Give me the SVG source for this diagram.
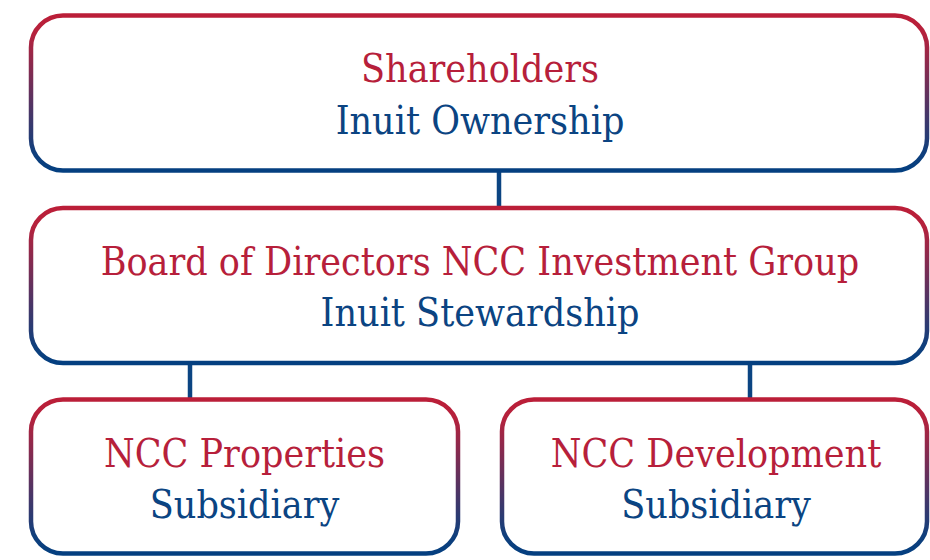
<svg xmlns="http://www.w3.org/2000/svg" width="930" height="560" viewBox="0 0 930 560">
<style>
.box{fill:#fff;stroke:url(#g);stroke-width:4.5}
.t{font-family:"DejaVu Serif Condensed","DejaVu Serif",serif;font-size:39px;text-anchor:middle}
.r{fill:#b71f3b}
.b{fill:#0b4482}
.c{stroke:#0b4482;stroke-width:4.5;fill:none}
</style>
<defs>
<linearGradient id="g" x1="0" y1="0" x2="0" y2="1">
<stop offset="0" stop-color="#bb1e38"/>
<stop offset="0.12" stop-color="#b5223d"/>
<stop offset="0.88" stop-color="#113f7c"/>
<stop offset="1" stop-color="#043f80"/>
</linearGradient>
</defs>
<g id="connectors">
<line class="c" x1="499" y1="170" x2="499" y2="208"/>
<line class="c" x1="190" y1="362" x2="190" y2="400"/>
<line class="c" x1="750" y1="362" x2="750" y2="400"/>
</g>
<g id="shareholders">
<rect class="box" x="31" y="15.5" width="896" height="155" rx="32"/>
<text class="t r" x="480" y="82">Shareholders</text>
<text class="t b" x="480" y="134">Inuit Ownership</text>
</g>
<g id="board">
<rect class="box" x="31" y="208" width="896" height="155" rx="32"/>
<text class="t r" x="480" y="275">Board of Directors NCC Investment Group</text>
<text class="t b" x="480" y="326">Inuit Stewardship</text>
</g>
<g id="properties">
<rect class="box" x="31" y="399.5" width="427" height="154" rx="32"/>
<text class="t r" x="244.5" y="467">NCC Properties</text>
<text class="t b" x="244.5" y="518">Subsidiary</text>
</g>
<g id="development">
<rect class="box" x="502" y="399.5" width="425" height="154" rx="32"/>
<text class="t r" x="716" y="467">NCC Development</text>
<text class="t b" x="716" y="518">Subsidiary</text>
</g>
</svg>
